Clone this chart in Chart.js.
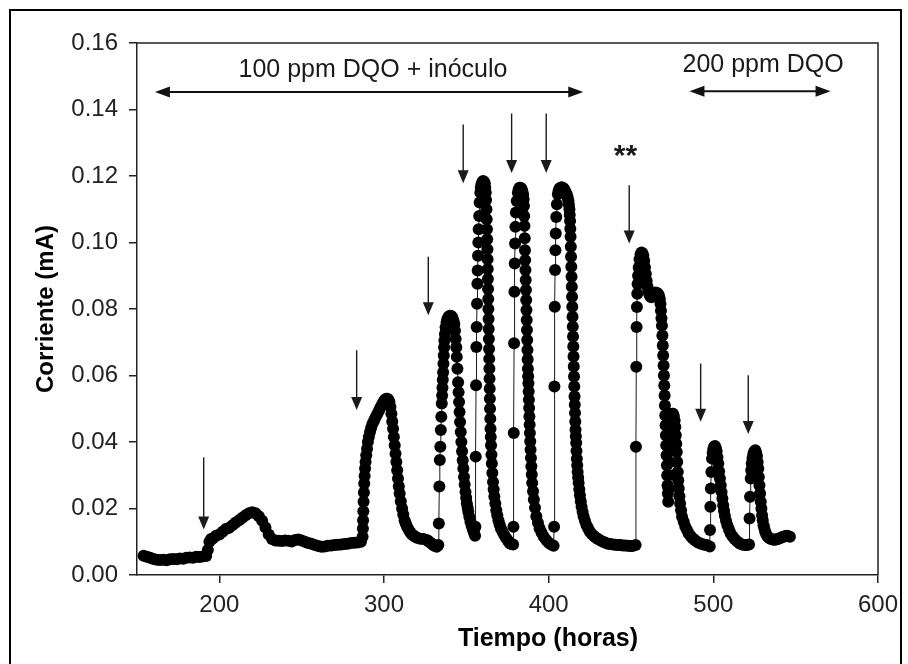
<!DOCTYPE html>
<html><head><meta charset="utf-8">
<script src="https://cdn.jsdelivr.net/npm/chart.js@4.4.1/dist/chart.umd.min.js"></script>
<style>html,body{margin:0;padding:0;background:#fff;}canvas{display:block;}</style>
</head><body>
<canvas id="c" width="908" height="664"></canvas>
<script>
// ---- readings [time (h), current (mA)] ----
const segBaseline = [
[154,.0058],[156,.0055],[158,.0052],[160,.0048],[162,.0046],[164,.0045],[166,.0046],[168,.0044],[170,.0047],[172,.0048],
[174,.0047],[176,.0050],[178,.0049],[180,.0052],[182,.0053],[184,.0052],[186,.0055],[188,.0054],[190,.0056],[192,.0057],
[193,.0075],[194,.0100],[195,.0108],[196,.0110],[198,.0118],[200,.0122],[202,.0130],[204,.0138],[206,.0142],[208,.0150],
[210,.0158],[212,.0165],[214,.0172],[216,.0180],[218,.0186],[220,.0189],[222,.0186],[224,.0177],[226,.0163],[228,.0143],
[230,.0122],[232,.0108],[234,.0104],[236,.0103],[238,.0102],[240,.0104],[242,.0103],[244,.0101],[246,.0105],[248,.0107],
[250,.0104],[252,.0100],[254,.0096],[256,.0094],[258,.0090],[260,.0087],[262,.0085],[264,.0086],[266,.0088],[268,.0089],
[270,.0090],[272,.0091],[274,.0092],[276,.0093],[278,.0094],[280,.0096],[282,.0097],[284,.0098],[286,.0100],[287,.0115]
];
const segPeak2 = [
[287.2,.0140],[287.3,.0165],[287.45,.0192],[287.6,.0220],[287.8,.0248],[288.0,.0275],[288.25,.0298],[288.5,.0320],[288.8,.0340],[289.2,.0360],
[289.7,.0380],[290.2,.0400],[290.8,.0415],[291.5,.0430],[292.2,.0443],[293,.0455],[294,.0465],[295,.0475],[296,.0485],[297,.0495],
[298,.0505],[299,.0515],[300,.0523],[300.8,.0528],[301.4,.0530],[302,.0530],[302.7,.0527],[303.3,.0520],[303.9,.0505],[304.5,.0485],
[305,.0462],[305.5,.0440],[306,.0415],[306.5,.0390],[307,.0365],[307.5,.0340],[308,.0315],[308.5,.0290],[309,.0267],[309.5,.0245],
[310.2,.0222],[311,.0200],[311.7,.0182],[312.5,.0165],[313.2,.0155],[314,.0145],[315,.0136],[316,.0128],[317,.0122],[318,.0118],
[319,.0115],[320,.0112],[322,.0109],[324,.0108],[326,.0105],[327,.0102],[328,.0098],[329,.0094],[330,.0090],[331,.0087],
[332,.0085],[333,.0090]
];
const segPeak3 = [
[333.3,.0155],[333.6,.0266],[333.9,.0346],[334.2,.0386],[334.5,.0436],[334.8,.0476],[335.1,.0516],[335.3,.0540],[335.5,.0563],[335.7,.0587],
[335.9,.0610],[336.1,.0635],[336.3,.0660],[336.5,.0685],[336.7,.0705],[337,.0725],[337.4,.0745],[338,.0760],[338.5,.0770],[339.2,.0777],
[340,.0780],[340.8,.0779],[341.5,.0775],[342.2,.0765],[342.7,.0755],[343.1,.0735],[343.5,.0710],[343.9,.0685],[344.2,.0656],[344.6,.0620],
[345,.0580],[345.3,.0550],[345.6,.0520],[345.9,.0490],[346.2,.0460],[346.6,.0430],[347,.0400],[347.4,.0372],[347.8,.0345],[348.2,.0320],
[348.6,.0295],[349,.0272],[349.5,.0250],[349.9,.0232],[350.3,.0215],[350.8,.0202],[351.2,.0190],[351.8,.0175],[352.5,.0160],[353.2,.0147],
[354,.0135],[354.7,.0126],[355.3,.0118]
];
const segPeak4 = [
[355.5,.0145],[355.7,.0356],[355.9,.0571],[356.1,.0686],[356.3,.0746],[356.5,.0816],[356.7,.0876],[356.9,.0916],[357.1,.0960],[357.3,.1000],
[357.5,.1040],[357.8,.1080],[358.1,.1120],[358.5,.1150],[358.8,.1165],[359.2,.1175],[359.7,.1182],[360.2,.1185],[360.7,.1183],[361.2,.1178],
[361.5,.1165],[361.8,.1150],[362,.1128],[362.2,.1100],[362.35,.1070],[362.5,.1040],[362.65,.1010],[362.8,.0980],[362.9,.0950],[363,.0920],
[363.1,.0890],[363.2,.0860],[363.3,.0830],[363.4,.0800],[363.5,.0770],[363.6,.0740],[363.7,.0710],[363.8,.0680],[363.9,.0650],[364,.0620],
[364.1,.0590],[364.2,.0560],[364.3,.0530],[364.4,.0500],[364.55,.0470],[364.7,.0440],[364.85,.0415],[365,.0390],[365.25,.0362],[365.5,.0335],
[365.8,.0307],[366.2,.0280],[366.6,.0258],[367,.0236],[367.6,.0215],[368.2,.0195],[368.8,.0180],[369.5,.0165],[370.2,.0152],[371,.0140],
[372,.0130],[373,.0120],[374,.0112],[375,.0105],[375.8,.0100],[376.5,.0095],[377.5,.0093],[378.4,.0092]
];
const segPeak5 = [
[378.6,.0145],[378.8,.0427],[379,.0697],[379.2,.0852],[379.4,.0937],[379.6,.0997],[379.8,.1047],[380.1,.1090],[380.6,.1125],[381.3,.1150],
[381.8,.1160],[382.3,.1165],[382.9,.1165],[383.5,.1162],[384,.1155],[384.5,.1145],[384.8,.1130],[385,.1110],[385.15,.1080],[385.3,.1050],
[385.45,.1013],[385.6,.0977],[385.75,.0947],[385.9,.0917],[386.05,.0887],[386.2,.0857],[386.35,.0827],[386.5,.0797],[386.65,.0767],[386.8,.0737],
[386.95,.0707],[387.1,.0677],[387.25,.0648],[387.4,.0620],[387.55,.0598],[387.7,.0577],[387.85,.0552],[388,.0527],[388.15,.0502],[388.3,.0477],
[388.45,.0452],[388.6,.0427],[388.8,.0402],[389,.0377],[389.25,.0352],[389.5,.0327],[389.75,.0302],[390,.0277],[390.5,.0252],[391,.0227],
[391.7,.0202],[392.5,.0177],[393.5,.0157],[394.5,.0140],[395.7,.0127],[397,.0115],[398.5,.0105],[400,.0097],[401.5,.0092],[403,.0088]
];
const segPeak6 = [
[403.3,.0145],[403.5,.0567],[403.7,.0807],[403.9,.0917],[404.1,.0977],[404.3,.1027],[404.6,.1077],[405,.1115],[405.6,.1145],[406,.1155],
[406.5,.1162],[407.2,.1165],[408,.1166],[408.8,.1164],[409.5,.1160],[410.2,.1153],[411,.1145],[411.5,.1136],[412,.1125],[412.3,.1113],
[412.6,.1100],[412.8,.1083],[413,.1065],[413.15,.1041],[413.3,.1017],[413.45,.0987],[413.6,.0957],[413.75,.0927],[413.9,.0897],[414.05,.0867],
[414.2,.0837],[414.35,.0807],[414.5,.0777],[414.65,.0747],[414.8,.0717],[414.95,.0687],[415.1,.0657],[415.25,.0627],[415.4,.0597],[415.55,.0567],
[415.7,.0537],[415.85,.0512],[416,.0487],[416.15,.0462],[416.3,.0437],[416.5,.0417],[416.7,.0397],[416.9,.0373],[417.1,.0350],[417.35,.0330],
[417.6,.0310],[417.9,.0293],[418.2,.0277],[418.6,.0258],[419,.0240],[419.5,.0222],[420,.0205],[420.6,.0190],[421.2,.0177],[422,.0163],
[423,.0150],[424,.0140],[425,.0130],[426.2,.0123],[427.5,.0117],[428.7,.0112],[430,.0108],[431.5,.0104],[433,.0100],[434.5,.0097],
[436,.0094],[437.5,.0093],[439,.0092],[440.5,.0091],[442,.0090],[443.5,.0090],[445,.0089],[446.5,.0089],[448,.0088],[449.5,.0087],
[451,.0087],[452.8,.0090]
];
const segPeak7 = [
[453,.0386],[453.2,.0626],[453.4,.0746],[453.6,.0806],[453.8,.0846],[454,.0875],[454.3,.0900],[454.7,.0925],[455.2,.0950],[455.8,.0965],
[456.4,.0970],[457,.0967],[457.5,.0960],[458,.0945],[458.5,.0925],[459,.0905],[459.5,.0885],[460,.0868],[460.5,.0855],[461,.0846],
[461.5,.0840],[462,.0837],[462.5,.0835],[463,.0840],[463.5,.0845],[464.2,.0848],[465,.0850],[465.8,.0848],[466.5,.0845],[467,.0840],
[467.5,.0830],[467.9,.0815],[468.2,.0795],[468.5,.0772],[468.8,.0750],[469.05,.0720],[469.3,.0690],[469.55,.0660],[469.8,.0630],[470,.0600],
[470.2,.0570],[470.4,.0540],[470.6,.0510],[470.8,.0480],[471,.0450],[471.2,.0420],[471.4,.0390],[471.6,.0360],[471.8,.0330],[472,.0300],
[472.2,.0270],[472.4,.0245],[472.6,.0220],[472.8,.0260],[473,.0300],[473.2,.0340],[473.4,.0380],[473.6,.0412],[473.8,.0440],[474.1,.0462],
[474.5,.0480],[475,.0485],[475.5,.0485],[476,.0478],[476.5,.0465],[476.9,.0445],[477.2,.0420],[477.5,.0395],[477.8,.0370],[478.1,.0340],
[478.4,.0310],[478.7,.0285],[479,.0260],[479.4,.0237],[479.8,.0215],[480.4,.0195],[481,.0175],[482,.0160],[483,.0145],[484,.0135],
[485,.0125],[486.2,.0117],[487.5,.0110],[488.7,.0105],[490,.0100],[491.5,.0096],[493,.0093],[494.5,.0091],[496,.0090],[497.8,.0086]
];
const segPeak8 = [
[498,.0135],[498.2,.0205],[498.5,.0260],[498.8,.0310],[499.2,.0350],[499.6,.0368],[500,.0380],[500.5,.0386],[501,.0388],[501.5,.0382],
[502,.0372],[502.5,.0355],[503,.0335],[503.5,.0312],[504,.0290],[504.5,.0270],[505,.0250],[505.5,.0230],[506,.0210],[506.5,.0193],
[507,.0178],[507.7,.0163],[508.5,.0150],[509.5,.0137],[510.5,.0125],[511.7,.0116],[513,.0108],[514.5,.0101],[516,.0095],[517.5,.0092],
[519,.0090],[520.5,.0090],[521.7,.0092]
];
const segPeak9 = [
[522,.0170],[522.3,.0235],[522.7,.0290],[523,.0315],[523.3,.0335],[523.8,.0352],[524.3,.0365],[524.9,.0372],[525.5,.0375],[526,.0368],
[526.5,.0358],[526.9,.0340],[527.3,.0320],[527.65,.0295],[528,.0270],[528.4,.0245],[528.8,.0220],[529.2,.0200],[529.6,.0180],[530,.0165],
[530.5,.0150],[531,.0140],[531.5,.0130],[532.2,.0122],[533,.0115],[534,.0111],[535,.0108],[536,.0107],[537,.0106],[538,.0107],
[539,.0108],[540,.0110],[541,.0112],[542,.0114],[543,.0116],[544,.0117],[545,.0118],[546.5,.0115]
];
const xTickValues = [200, 300, 400, 500, 600];
const yTickValues = [0, 0.02, 0.04, 0.06, 0.08, 0.10, 0.12, 0.14, 0.16];
const xAxisTitle = 'Tiempo (horas)';
const yAxisTitle = 'Corriente (mA)';

// feeding arrows (data coordinates)
const arrowX   = [190.5, 283.4, 326.9, 348.1, 377.5, 398.5, 448.9, 492.3, 521.2];
const arrowTop = [0.0354, 0.0676, 0.0957, 0.1355, 0.1388, 0.1388, 0.1172, 0.0636, 0.0601];
const arrowTip = [0.0137, 0.0496, 0.0781, 0.1178, 0.1209, 0.1209, 0.0997, 0.0461, 0.0424];

// period spans (double arrows) and their labels
const spanLabels = ['100 ppm DQO + inóculo', '200 ppm DQO'];
const spanStart  = [160.9, 485.5];
const spanEnd    = [421.0, 571.2];
const spanY      = [0.1453, 0.1455];
const spanLabelX = [293.3, 530.2];
const spanLabelY = [0.1497, 0.1512];

const markText = '**';
const markX = 446.6;
const markY = 0.1275;

// ---- chart ----
const FONT = '"Liberation Sans", Arial, Helvetica, sans-serif';
const readings = [].concat(segBaseline, segPeak2, segPeak3, segPeak4, segPeak5, segPeak6, segPeak7, segPeak8, segPeak9);
const points = readings.map(r => ({ x: r[0], y: r[1] }));

const decor = {
  id: 'decor',
  beforeDraw(chart) {
    const c = chart.ctx;
    c.save();
    c.fillStyle = '#fff';
    c.fillRect(0, 0, chart.width, chart.height);
    c.restore();
  },
  afterDraw(chart) {
    const c = chart.ctx;
    const a = chart.chartArea;
    const xs = chart.scales.x, ys = chart.scales.y;
    c.save();
    c.strokeStyle = '#222';
    c.lineWidth = 1.5;
    c.beginPath();
    c.moveTo(a.left, a.top);
    c.lineTo(a.right, a.top);
    c.lineTo(a.right, a.bottom);
    c.stroke();

    c.strokeStyle = '#1a1a1a';
    c.fillStyle = '#1a1a1a';
    c.lineWidth = 1.4;
    for (let i = 0; i < arrowX.length; i++) {
      const px = xs.getPixelForValue(arrowX[i]);
      const y0 = ys.getPixelForValue(arrowTop[i]);
      const y1 = ys.getPixelForValue(arrowTip[i]);
      c.beginPath();
      c.moveTo(px, y0);
      c.lineTo(px, y1 - 10);
      c.stroke();
      c.beginPath();
      c.moveTo(px, y1);
      c.lineTo(px - 5.5, y1 - 13);
      c.lineTo(px + 5.5, y1 - 13);
      c.closePath();
      c.fill();
    }

    c.lineWidth = 2;
    for (let i = 0; i < spanStart.length; i++) {
      const x0 = xs.getPixelForValue(spanStart[i]);
      const x1 = xs.getPixelForValue(spanEnd[i]);
      const py = ys.getPixelForValue(spanY[i]);
      c.strokeStyle = '#111';
      c.fillStyle = '#111';
      c.beginPath();
      c.moveTo(x0 + 8, py);
      c.lineTo(x1 - 8, py);
      c.stroke();
      c.beginPath();
      c.moveTo(x0, py);
      c.lineTo(x0 + 15, py - 5.5);
      c.lineTo(x0 + 15, py + 5.5);
      c.closePath();
      c.fill();
      c.beginPath();
      c.moveTo(x1, py);
      c.lineTo(x1 - 15, py - 5.5);
      c.lineTo(x1 - 15, py + 5.5);
      c.closePath();
      c.fill();
      c.font = '25px ' + FONT;
      c.textAlign = 'center';
      c.textBaseline = 'alphabetic';
      c.fillStyle = '#1a1a1a';
      c.fillText(spanLabels[i], xs.getPixelForValue(spanLabelX[i]), ys.getPixelForValue(spanLabelY[i]));
    }

    c.font = 'bold 30px ' + FONT;
    c.textAlign = 'center';
    c.textBaseline = 'middle';
    c.fillStyle = '#1a1a1a';
    c.fillText(markText, xs.getPixelForValue(markX), ys.getPixelForValue(markY) + 6);

    c.font = 'bold 25px ' + FONT;
    c.textAlign = 'center';
    c.textBaseline = 'alphabetic';
    c.fillStyle = '#000';
    c.fillText(xAxisTitle, 548, 646);

    c.strokeStyle = '#000';
    c.lineWidth = 2;
    c.strokeRect(10, 10, 891, 700);
    c.restore();
  }
};

new Chart(document.getElementById('c'), {
  type: 'scatter',
  data: {
    datasets: [{
      data: points,
      showLine: true,
      borderColor: '#1a1a1a',
      borderWidth: 1,
      pointRadius: 6,
      pointHoverRadius: 6,
      pointBackgroundColor: '#000',
      pointBorderColor: '#000',
      pointBorderWidth: 0,
      tension: 0
    }]
  },
  options: {
    responsive: false,
    animation: false,
    devicePixelRatio: 1,
    events: [],
    layout: { padding: { top: 43, right: 30, bottom: 0, left: 0 } },
    plugins: { legend: { display: false }, tooltip: { enabled: false } },
    scales: {
      x: {
        type: 'linear',
        min: 150, max: 600,
        afterBuildTicks: s => { s.ticks = xTickValues.map(v => ({ value: v })); },
        afterFit: s => { s.height = 89; },
        grid: { display: true, drawOnChartArea: false, drawTicks: true, tickLength: 8, color: '#222', lineWidth: 1.5 },
        border: { display: true, color: '#222', width: 1.5 },
        ticks: { color: '#222', padding: 8, maxRotation: 0, font: { family: FONT, size: 24 } },
        title: { display: false }
      },
      y: {
        type: 'linear',
        min: 0, max: 0.16,
        afterBuildTicks: s => { s.ticks = yTickValues.map(v => ({ value: v })); },
        afterFit: s => { s.width = 137; },
        grid: { display: true, drawOnChartArea: false, drawTicks: true, tickLength: 8, color: '#222', lineWidth: 1.5 },
        border: { display: true, color: '#222', width: 1.5 },
        ticks: { color: '#222', padding: 11, font: { family: FONT, size: 24 }, callback: v => Number(v).toFixed(2) },
        title: { display: true, text: yAxisTitle, color: '#000', padding: { top: 32, bottom: 0 }, font: { family: FONT, size: 24, weight: 'bold' } }
      }
    }
  },
  plugins: [decor]
});
</script>
</body></html>
